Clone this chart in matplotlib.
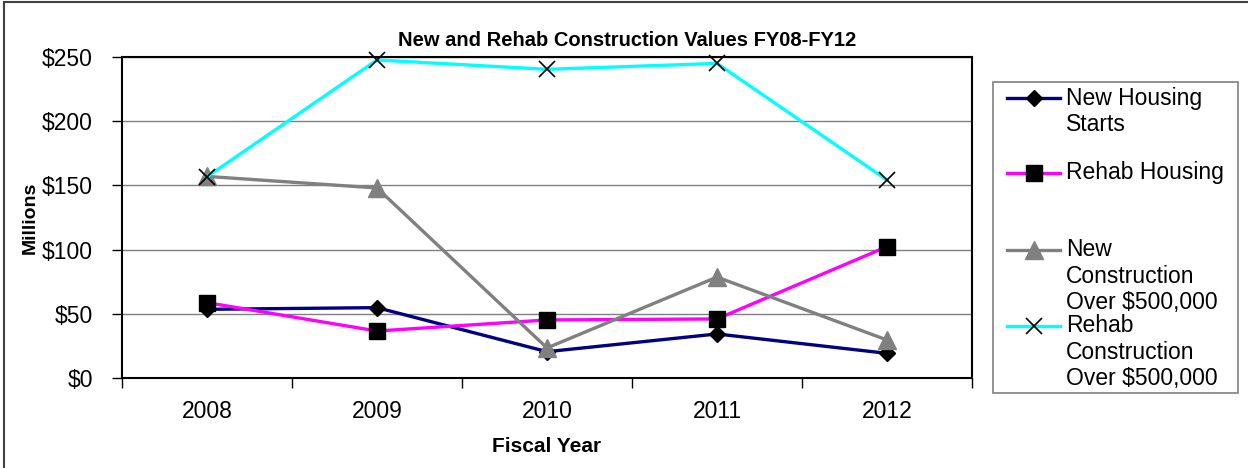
import matplotlib.pyplot as plt
from matplotlib.lines import Line2D
from matplotlib.patches import Rectangle

plt.rcParams['font.family'] = ['Liberation Sans', 'DejaVu Sans']

# Values in millions of dollars
years = ['2008', '2009', '2010', '2011', '2012']
new_housing = [53.5, 54.8, 20.5, 34.3, 19.2]
rehab_housing = [58.7, 36.6, 45.2, 46.0, 102.3]
new_construction = [157, 148, 23.4, 78.6, 29.6]
rehab_construction = [156.7, 247.7, 240.4, 245.0, 154.2]

series_names = ['New Housing\nStarts', 'Rehab Housing',
                'New\nConstruction\nOver $500,000',
                'Rehab\nConstruction\nOver $500,000']
y_ticks = [0, 50, 100, 150, 200, 250]

fig = plt.figure(figsize=(12.48, 4.68), dpi=100)
W, H = 1248, 468
ax = fig.add_axes([122 / W, 1 - 378 / H, 850 / W, 321 / H])

x = list(range(len(years)))
styles = [
    dict(color='#000080', marker='D', ms=8, mfc='black', mec='black'),
    dict(color='#FF00FF', marker='s', ms=12, mfc='black', mec='black'),
    dict(color='#808080', marker='^', ms=13, mfc='#808080', mec='#808080'),
    dict(color='#00FFFF', marker='x', ms=12, mfc='black', mec='black', mew=1.2),
]
data = [new_housing, rehab_housing, new_construction, rehab_construction]
for vals, st in zip(data, styles):
    ax.plot(x, vals, lw=2.4, clip_on=False, **st)

ax.set_xlim(-0.5, len(years) - 0.5)
ax.set_ylim(0, 250)
ax.set_yticks(y_ticks)
ax.set_yticklabels([f'${v}' for v in y_ticks], fontsize=16.5)
ax.set_xticks([i - 0.5 for i in range(len(years) + 1)])
ax.set_xticklabels([])
ax.set_xticks(x, minor=True)
ax.set_xticklabels(years, minor=True, fontsize=16.5)
ax.tick_params(axis='x', which='minor', length=0, pad=16)
ax.tick_params(axis='x', which='major', direction='out', length=7, width=1)
ax.tick_params(axis='y', direction='out', length=7, width=1, pad=14)
ax.grid(axis='y', color='#808080', lw=1)
ax.set_axisbelow(True)
for sp in ax.spines.values():
    sp.set_color('black')
    sp.set_linewidth(1.5)

fig.text(627 / W, 1 - 40 / H, 'New and Rehab Construction Values FY08-FY12',
         ha='center', va='center', fontsize=14.5, fontweight='bold')
fig.text(547 / W, 1 - 446 / H, 'Fiscal Year', ha='center', va='center',
         fontsize=15, fontweight='bold')
fig.text(30 / W, 1 - 218 / H, 'Millions', ha='center', va='center',
         rotation=90, fontsize=14, fontweight='bold')

# legend box drawn by hand to match the wrapped Excel layout
fig.patches.append(Rectangle((993 / W, 1 - 393 / H), 245 / W, 311 / H,
                             transform=fig.transFigure, fill=False,
                             edgecolor='#808080', lw=1.2))
handle_y = [98, 173, 250, 326]
for name, st, hy in zip(series_names, styles, handle_y):
    fig.lines.append(Line2D([1007 / W, 1033.5 / W, 1060 / W], [1 - hy / H] * 3,
                            transform=fig.transFigure, lw=2.4,
                            markevery=[1], **st))
    for k, line in enumerate(name.split('\n')):
        fig.text(1066 / W, 1 - (hy + k * 26.5) / H, line, ha='left',
                 va='center', fontsize=16.5)

# outer chart frame
fig.patches.append(Rectangle((4 / W, -0.1), 1.2, 1.1 - 2 / H,
                             transform=fig.transFigure, fill=False,
                             edgecolor='#404040', lw=1.5))

fig.savefig('out.png', dpi=100)
